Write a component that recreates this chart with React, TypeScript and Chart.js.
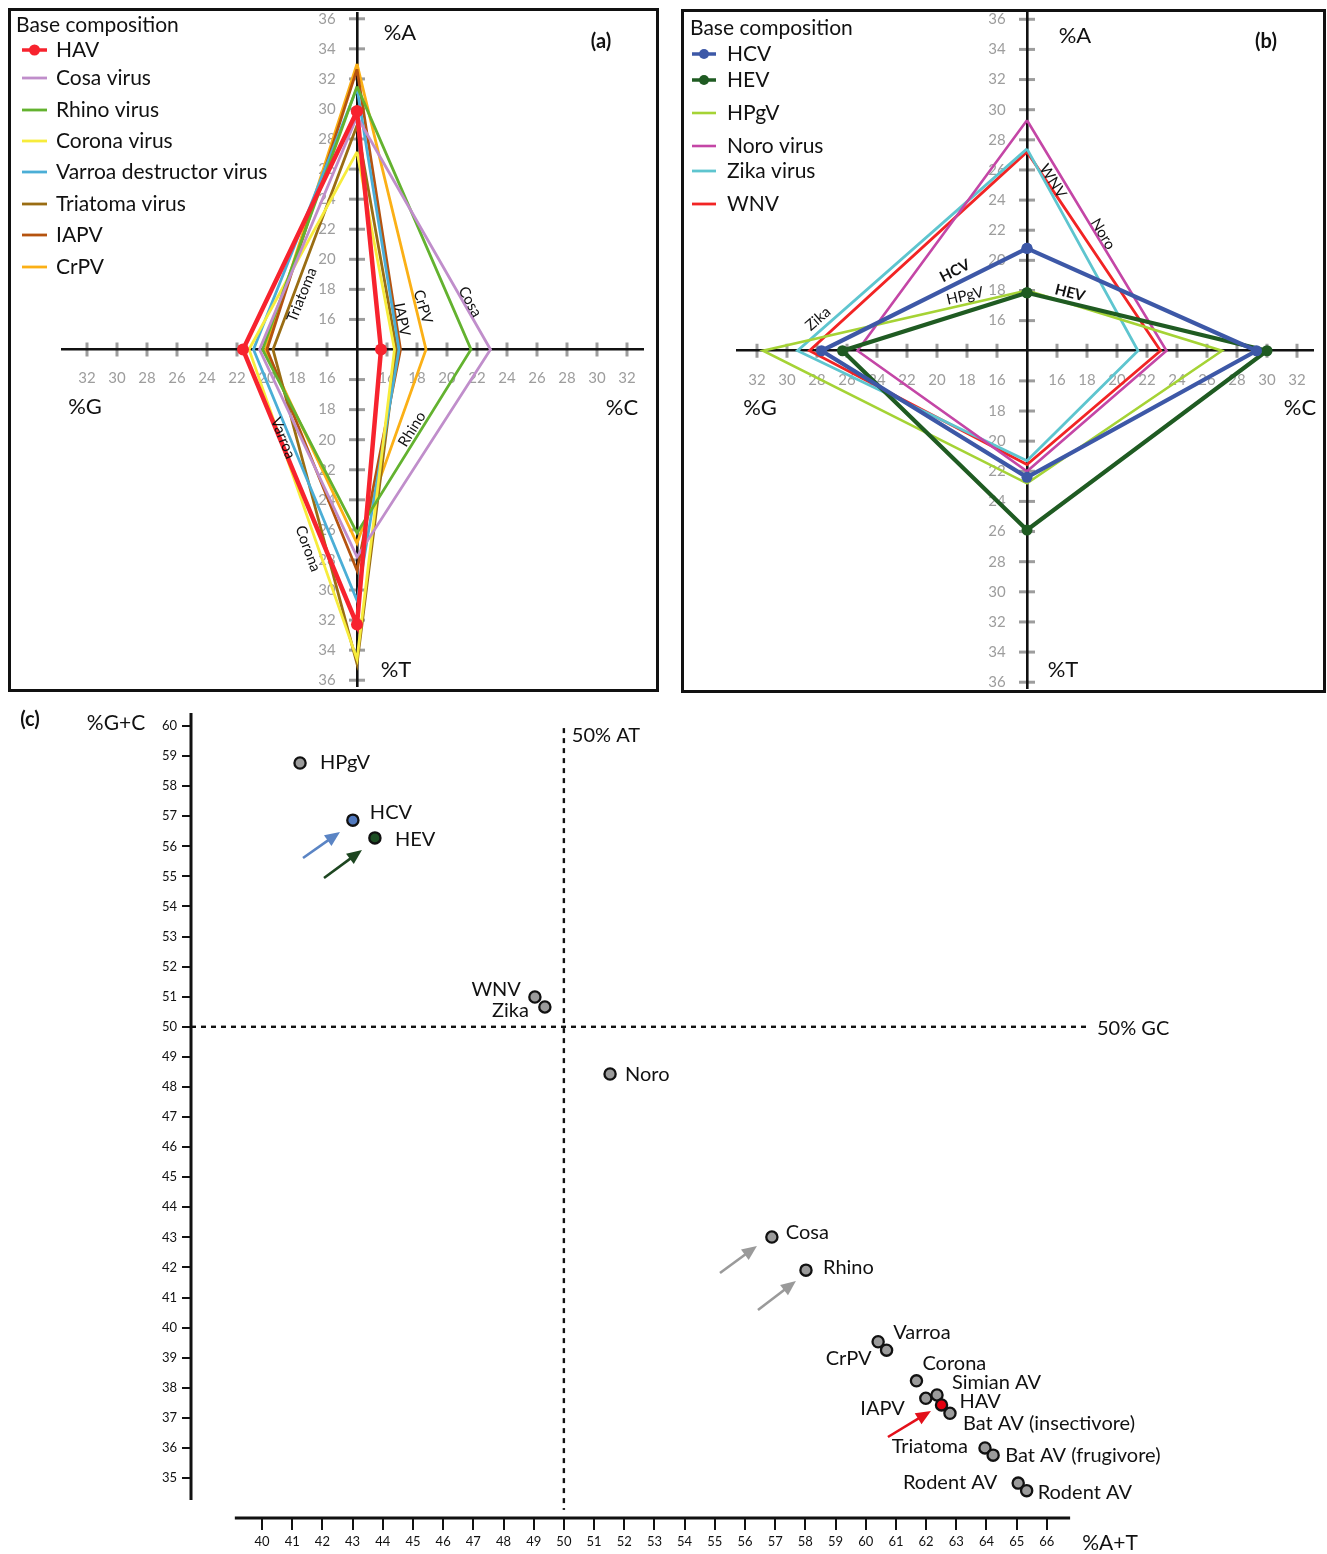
import React, { useEffect, useRef } from 'react';
import { Chart, registerables } from 'chart.js';

Chart.register(...registerables);

const FONT = 'Lato, "Open Sans", "Noto Sans", sans-serif';
const ORIGIN = 14; // base-composition value at the crossing of the diamond axes

// ---------------- Panel (a) ----------------
const virusesA = ['HAV', 'Cosa virus', 'Rhino virus', 'Corona virus', 'Varroa destructor virus', 'Triatoma virus', 'IAPV', 'CrPV'];
const pctA_a = [29.85, 29.5, 31.5, 27.15, 31.4, 28.9, 32.65, 33.0];
const pctC_a = [15.6, 22.9, 21.6, 16.5, 16.8, 16.65, 16.9, 18.6];
const pctT_a = [32.3, 27.8, 26.2, 34.6, 30.7, 34.9, 28.7, 26.9];
const pctG_a = [21.6, 20.5, 20.3, 21.2, 20.9, 19.6, 20.0, 20.1];

// ---------------- Panel (b) ----------------
const virusesB = ['HCV', 'HEV', 'HPgV', 'Noro virus', 'Zika virus', 'WNV'];
const pctA_b = [20.8, 17.85, 18.0, 29.3, 27.4, 27.2];
const pctC_b = [29.3, 30.0, 27.0, 23.3, 21.4, 22.9];
const pctT_b = [22.4, 25.9, 22.8, 22.0, 21.3, 21.55];
const pctG_b = [27.7, 26.3, 31.6, 25.3, 29.3, 28.5];

// tick labels of the diamond axes
const tickLabelsH = [16, 18, 20, 22, 24, 26, 28, 30, 32];
const tickLabelsV = [16, 18, 20, 22, 24, 26, 28, 30, 32, 34, 36];

// ---------------- Panel (c) ----------------
const scatterNames = ['HPgV', 'HCV', 'HEV', 'WNV', 'Zika', 'Noro', 'Cosa', 'Rhino', 'Varroa', 'CrPV', 'Corona', 'IAPV', 'Simian AV', 'Bat AV (insectivore)', 'Triatoma', 'Bat AV (frugivore)', 'Rodent AV', 'Rodent AV', 'HAV'];
const scatterAT = [41.26, 43.01, 43.74, 49.04, 49.37, 51.53, 56.89, 58.02, 60.41, 60.69, 61.68, 61.99, 62.36, 62.79, 63.95, 64.22, 65.05, 65.33, 62.51];
const scatterGC = [58.77, 56.87, 56.28, 50.99, 50.66, 48.43, 43.01, 41.91, 39.53, 39.25, 38.23, 37.65, 37.76, 37.15, 36.0, 35.76, 34.83, 34.58, 37.43];
const scatterTicksX = [40, 41, 42, 43, 44, 45, 46, 47, 48, 49, 50, 51, 52, 53, 54, 55, 56, 57, 58, 59, 60, 61, 62, 63, 64, 65, 66];
const scatterTicksY = [35, 36, 37, 38, 39, 40, 41, 42, 43, 44, 45, 46, 47, 48, 49, 50, 51, 52, 53, 54, 55, 56, 57, 58, 59, 60];

// ---------------- styles ----------------
const colorsA = ['#F7232E', '#C08ECB', '#63B22F', '#F7EC3C', '#4BAED6', '#9A6D13', '#B5530F', '#FBB016'];
const lineWidthsA = [4.5, 2.8, 2.8, 2.8, 2.8, 2.8, 2.8, 2.8];
const dotRadiiA = [6, 0, 0, 0, 0, 0, 0, 0];
const colorsB = ['#3D58A7', '#1F5B22', '#A5D335', '#C446A6', '#5EC5CF', '#F22424'];
const lineWidthsB = [4.2, 4.2, 2.6, 2.6, 2.8, 2.8];
const dotRadiiB = [5.5, 5.5, 0, 0, 0, 0];
const highlightFill: Record<string, string> = { HCV: '#5179BE', HEV: '#1D4E23', HAV: '#E3000F' };

// annotations (data coordinates of the diamond charts)
const lineLabelsA = [
  { text: 'Triatoma', x: -3.67, y: 3.64, rot: -68 },
  { text: 'Cosa', x: 7.53, y: 3.18, rot: 61 },
  { text: 'CrPV', x: 4.4, y: 2.85, rot: 74 },
  { text: 'IAPV', x: 3.0, y: 1.99, rot: 79 },
  { text: 'Rhino', x: 3.67, y: -5.3, rot: -58 },
  { text: 'Varroa', x: -4.93, y: -5.89, rot: 68 },
  { text: 'Corona', x: -3.27, y: -13.25, rot: 70 },
];
const lineLabelsB = [
  { text: 'WNV', x: 1.73, y: 11.26, rot: 58 },
  { text: 'Noro', x: 5.07, y: 7.75, rot: 59 },
  { text: 'HCV', x: -4.8, y: 5.3, rot: -27, bold: true },
  { text: 'HPgV', x: -4.13, y: 3.64, rot: -13 },
  { text: 'HEV', x: 2.87, y: 3.84, rot: 14, bold: true },
  { text: 'Zika', x: -13.93, y: 2.12, rot: -41 },
];
const scatterLabelOffsets = [
  { dx: 20, dy: 0, align: 'left' },
  { dx: 17, dy: -8, align: 'left' },
  { dx: 20, dy: 2, align: 'left' },
  { dx: -14, dy: -7, align: 'right' },
  { dx: -16, dy: 4, align: 'right' },
  { dx: 15, dy: 1, align: 'left' },
  { dx: 14, dy: -5, align: 'left' },
  { dx: 17, dy: -3, align: 'left' },
  { dx: 15, dy: -9, align: 'left' },
  { dx: -15, dy: 8, align: 'right' },
  { dx: 6, dy: -17, align: 'left' },
  { dx: -21, dy: 10, align: 'right' },
  { dx: 15, dy: -12, align: 'left' },
  { dx: 13, dy: 10, align: 'left' },
  { dx: -17, dy: -1, align: 'right' },
  { dx: 12, dy: 0, align: 'left' },
  { dx: -21, dy: -1, align: 'right' },
  { dx: 11, dy: 2, align: 'left' },
  { dx: 18, dy: -3, align: 'left' },
];
const scatterArrows = [
  { from: [41.358, 55.612], to: [42.584, 56.476], color: '#5A84C4' },
  { from: [42.054, 54.947], to: [43.312, 55.878], color: '#1D4620' },
  { from: [55.171, 41.815], to: [56.396, 42.713], color: '#9A9A9A' },
  { from: [56.429, 40.585], to: [57.688, 41.549], color: '#9A9A9A' },
  { from: [60.735, 36.363], to: [62.16, 37.23], color: '#E3101A' },
];

function diamondPoints(a: number, c: number, t: number, g: number) {
  return [
    { x: 0, y: a - ORIGIN },
    { x: c - ORIGIN, y: 0 },
    { x: 0, y: -(t - ORIGIN) },
    { x: -(g - ORIGIN), y: 0 },
    { x: 0, y: a - ORIGIN },
  ];
}

const diamondPlugin = {
  id: 'diamond',
  beforeDraw(chart: any) {
    const { ctx } = chart;
    const xs = chart.scales.x, ys = chart.scales.y;
    const cx = xs.getPixelForValue(0), cy = ys.getPixelForValue(0);
    ctx.save();
    ctx.strokeStyle = '#9d9d9d';
    ctx.fillStyle = '#9d9d9d';
    ctx.lineWidth = 3;
    ctx.font = `15px ${FONT}`;
    ctx.textAlign = 'center';
    ctx.textBaseline = 'middle';
    for (const t of xs.ticks) {
      const px = xs.getPixelForValue(t.value);
      ctx.beginPath(); ctx.moveTo(px, cy - 7); ctx.lineTo(px, cy + 7); ctx.stroke();
      ctx.fillText(String(Math.round(Math.abs(t.value) + ORIGIN)), px, cy + 29);
    }
    for (const t of ys.ticks) {
      const py = ys.getPixelForValue(t.value);
      ctx.beginPath(); ctx.moveTo(cx - 8, py); ctx.lineTo(cx + 8, py); ctx.stroke();
      // the lowest "16" of the vertical axis coincides with the horizontal axis label
      if (t.value === -(tickLabelsV[0] - ORIGIN)) continue;
      ctx.fillText(String(Math.round(Math.abs(t.value) + ORIGIN)), cx - 30, py);
    }
    ctx.restore();
  },
  afterDraw(chart: any, _a: any, o: any) {
    const { ctx } = chart;
    const xs = chart.scales.x, ys = chart.scales.y;
    ctx.save();
    ctx.fillStyle = '#111';
    ctx.textBaseline = 'middle';
    for (const l of o.lineLabels) {
      ctx.save();
      ctx.translate(xs.getPixelForValue(l.x), ys.getPixelForValue(l.y));
      ctx.rotate((l.rot * Math.PI) / 180);
      ctx.font = `${l.bold ? 'bold ' : ''}15px ${FONT}`;
      ctx.textAlign = 'center';
      ctx.fillText(l.text, 0, 0);
      ctx.restore();
    }
    ctx.font = `21px ${FONT}`;
    ctx.textAlign = 'left';
    ctx.fillText(o.title.text, o.title.x, o.title.y);
    chart.data.datasets.forEach((ds: any, i: number) => {
      const y = o.legendRows[i];
      ctx.strokeStyle = ds.borderColor;
      ctx.lineWidth = Math.min(ds.borderWidth, 3.5);
      ctx.beginPath(); ctx.moveTo(o.sampleX[0], y); ctx.lineTo(o.sampleX[1], y); ctx.stroke();
      if (ds.pointRadius > 0) {
        ctx.fillStyle = ds.borderColor;
        ctx.beginPath(); ctx.arc((o.sampleX[0] + o.sampleX[1]) / 2, y, ds.pointRadius - 0.5, 0, Math.PI * 2); ctx.fill();
      }
      ctx.fillStyle = '#111';
      ctx.fillText(ds.label, o.labelX, y);
    });
    ctx.font = `22px ${FONT}`;
    ctx.textAlign = 'center';
    for (const a of o.axisNames) ctx.fillText(a.text, a.x, a.y);
    ctx.font = `bold 20px ${FONT}`;
    ctx.fillText(o.tag.text, o.tag.x, o.tag.y);
    ctx.strokeStyle = '#111';
    ctx.lineWidth = 3;
    ctx.strokeRect(o.box[0], o.box[1], o.box[2], o.box[3]);
    ctx.restore();
  },
};

function diamondConfig(p: any): any {
  return {
    type: 'scatter',
    data: {
      datasets: p.names.map((n: string, i: number) => ({
        label: n,
        data: diamondPoints(p.A[i], p.C[i], p.T[i], p.G[i]),
        showLine: true,
        borderColor: p.colors[i],
        backgroundColor: p.colors[i],
        borderWidth: p.widths[i],
        pointRadius: p.dots[i],
        pointHoverRadius: p.dots[i],
        pointBorderWidth: 0,
        pointBackgroundColor: p.colors[i],
        borderJoinStyle: 'miter',
        fill: false,
        tension: 0,
        clip: false,
      })),
    },
    options: {
      responsive: false,
      animation: false,
      devicePixelRatio: 1,
      events: [],
      layout: { padding: p.padding },
      scales: {
        x: {
          type: 'linear', min: p.range[0], max: p.range[1], position: { y: 0 },
          grid: { display: false }, border: { display: true, color: '#111', width: 2.6 },
          ticks: { display: false },
          afterBuildTicks: (s: any) => {
            s.ticks = [...tickLabelsH.map((v) => ({ value: -(v - ORIGIN) })), ...tickLabelsH.map((v) => ({ value: v - ORIGIN }))];
          },
        },
        y: {
          type: 'linear', min: p.range[2], max: p.range[3], position: { x: 0 },
          grid: { display: false }, border: { display: true, color: '#111', width: 2.6 },
          ticks: { display: false },
          afterBuildTicks: (s: any) => {
            s.ticks = [...tickLabelsV.map((v) => ({ value: -(v - ORIGIN) })), ...tickLabelsV.map((v) => ({ value: v - ORIGIN }))];
          },
        },
      },
      plugins: { legend: { display: false }, tooltip: { enabled: false }, diamond: p.deco },
    },
    plugins: [diamondPlugin],
  };
}

const scatterPlugin = {
  id: 'scatterDeco',
  beforeDatasetsDraw(chart: any) {
    const { ctx, chartArea } = chart;
    const xs = chart.scales.x, ys = chart.scales.y;
    ctx.save();
    ctx.strokeStyle = '#111';
    ctx.lineWidth = 3;
    ctx.beginPath();
    ctx.moveTo(chartArea.left, chartArea.top);
    ctx.lineTo(chartArea.left, ys.getPixelForValue(34.27));
    ctx.stroke();
    ctx.beginPath();
    ctx.moveTo(xs.getPixelForValue(39.1), chartArea.bottom);
    ctx.lineTo(xs.getPixelForValue(66.77), chartArea.bottom);
    ctx.stroke();
    ctx.setLineDash([5, 5]);
    ctx.lineWidth = 2.4;
    ctx.beginPath();
    ctx.moveTo(xs.getPixelForValue(50), ys.getPixelForValue(59.93));
    ctx.lineTo(xs.getPixelForValue(50), ys.getPixelForValue(33.94));
    ctx.stroke();
    ctx.beginPath();
    ctx.moveTo(chartArea.left, ys.getPixelForValue(50));
    ctx.lineTo(xs.getPixelForValue(67.36), ys.getPixelForValue(50));
    ctx.stroke();
    ctx.setLineDash([]);
    ctx.fillStyle = '#111';
    ctx.font = `20px ${FONT}`;
    ctx.textBaseline = 'middle';
    ctx.textAlign = 'left';
    ctx.fillText('50% AT', xs.getPixelForValue(50) + 8, ys.getPixelForValue(59.67));
    ctx.fillText('50% GC', xs.getPixelForValue(67.36) + 9, ys.getPixelForValue(49.93));
    ctx.restore();
  },
  afterDatasetsDraw(chart: any, _a: any, o: any) {
    const { ctx } = chart;
    const xs = chart.scales.x, ys = chart.scales.y;
    ctx.save();
    for (const a of scatterArrows) {
      const x1 = xs.getPixelForValue(a.from[0]), y1 = ys.getPixelForValue(a.from[1]);
      const x2 = xs.getPixelForValue(a.to[0]), y2 = ys.getPixelForValue(a.to[1]);
      const ang = Math.atan2(y2 - y1, x2 - x1);
      const head = 15, half = 6.5;
      const c = Math.cos(ang), s = Math.sin(ang);
      ctx.strokeStyle = a.color;
      ctx.fillStyle = a.color;
      ctx.lineWidth = 2.6;
      ctx.beginPath();
      ctx.moveTo(x1, y1);
      ctx.lineTo(x2 - head * 0.8 * c, y2 - head * 0.8 * s);
      ctx.stroke();
      ctx.beginPath();
      ctx.moveTo(x2, y2);
      ctx.lineTo(x2 - head * c + half * s, y2 - head * s - half * c);
      ctx.lineTo(x2 - head * c - half * s, y2 - head * s + half * c);
      ctx.closePath();
      ctx.fill();
    }
    ctx.fillStyle = '#111';
    ctx.font = `20px ${FONT}`;
    ctx.textBaseline = 'middle';
    scatterNames.forEach((n, i) => {
      const off = scatterLabelOffsets[i];
      ctx.textAlign = off.align;
      ctx.fillText(n, xs.getPixelForValue(scatterAT[i]) + off.dx, ys.getPixelForValue(scatterGC[i]) + off.dy);
    });
    ctx.textAlign = 'center';
    ctx.font = `21px ${FONT}`;
    ctx.fillText('%G+C', o.yTitle[0], o.yTitle[1]);
    ctx.fillText('%A+T', o.xTitle[0], o.xTitle[1]);
    ctx.font = `bold 20px ${FONT}`;
    ctx.fillText('(c)', o.tag[0], o.tag[1]);
    ctx.restore();
  },
};

function scatterConfig(): any {
  return {
    type: 'scatter',
    data: {
      datasets: [
        {
          label: 'Viruses',
          data: scatterAT.map((x, i) => ({ x, y: scatterGC[i] })),
          pointRadius: 5.6,
          pointHoverRadius: 5.6,
          pointBorderWidth: 2.3,
          pointBorderColor: '#111',
          pointBackgroundColor: scatterNames.map((n) => highlightFill[n] || '#9B9B9B'),
          clip: false,
        },
      ],
    },
    options: {
      responsive: false,
      animation: false,
      devicePixelRatio: 1,
      events: [],
      layout: { padding: { left: 151, right: 147, top: 19, bottom: 0 } },
      scales: {
        x: {
          type: 'linear', position: 'bottom', min: 37.648, max: 70.41,
          afterFit: (s: any) => { s.height = 36; },
          afterBuildTicks: (s: any) => { s.ticks = scatterTicksX.map((v) => ({ value: v })); },
          grid: { display: true, drawOnChartArea: false, drawTicks: true, tickLength: 12, color: '#111', lineWidth: 2 },
          border: { display: false },
          ticks: { autoSkip: false, maxRotation: 0, padding: 4, color: '#111', font: { family: FONT, size: 13 } },
        },
        y: {
          type: 'linear', position: 'left', min: 33.67, max: 60.432,
          afterFit: (s: any) => { s.width = 40; },
          afterBuildTicks: (s: any) => { s.ticks = scatterTicksY.map((v) => ({ value: v })); },
          grid: { display: true, drawOnChartArea: false, drawTicks: true, tickLength: 9, color: '#111', lineWidth: 2 },
          border: { display: false },
          ticks: { autoSkip: false, padding: 5, color: '#111', font: { family: FONT, size: 13 } },
        },
      },
      plugins: {
        legend: { display: false },
        tooltip: { enabled: false },
        scatterDeco: { yTitle: [116, 29], xTitle: [1110, 849], tag: [30, 26] },
      },
    },
    plugins: [scatterPlugin],
  };
}

export default function App() {
  const refA = useRef<HTMLCanvasElement>(null);
  const refB = useRef<HTMLCanvasElement>(null);
  const refC = useRef<HTMLCanvasElement>(null);

  useEffect(() => {
    const chartA = new Chart(refA.current as HTMLCanvasElement, diamondConfig({
      names: virusesA, A: pctA_a, C: pctC_a, T: pctT_a, G: pctG_a,
      colors: colorsA, widths: lineWidthsA, dots: dotRadiiA,
      range: [-19.667, 19.067, -22.384, 22.384],
      padding: { left: 55, right: 16, top: 3, bottom: 7 },
      deco: {
        box: [2.5, 2.5, 648, 681],
        title: { text: 'Base composition', x: 9, y: 18 },
        legendRows: [43, 71, 103, 134, 165, 197, 228, 260],
        sampleX: [15, 40],
        labelX: 49,
        axisNames: [
          { text: '%A', x: 393, y: 26 },
          { text: '%C', x: 615, y: 401 },
          { text: '%T', x: 389, y: 663 },
          { text: '%G', x: 78, y: 400 },
        ],
        tag: { text: '(a)', x: 594, y: 35 },
        lineLabels: lineLabelsA,
      },
    }));
    const chartB = new Chart(refB.current as HTMLCanvasElement, diamondConfig({
      names: virusesB, A: pctA_b, C: pctC_b, T: pctT_b, G: pctG_b,
      colors: colorsB, widths: lineWidthsB, dots: dotRadiiB,
      range: [-19.333, 19.067, -22.384, 22.384],
      padding: { left: 57, right: 13, top: 4, bottom: 6 },
      deco: {
        box: [2.5, 2.5, 642, 681],
        title: { text: 'Base composition', x: 10, y: 20 },
        legendRows: [46, 72, 105, 138, 163, 196],
        sampleX: [12, 36],
        labelX: 47,
        axisNames: [
          { text: '%A', x: 395, y: 28 },
          { text: '%C', x: 620, y: 400 },
          { text: '%T', x: 383, y: 662 },
          { text: '%G', x: 80, y: 400 },
        ],
        tag: { text: '(b)', x: 586, y: 34 },
        lineLabels: lineLabelsB,
      },
    }));
    const chartC = new Chart(refC.current as HTMLCanvasElement, scatterConfig());
    return () => {
      chartA.destroy();
      chartB.destroy();
      chartC.destroy();
    };
  }, []);

  return (
    <div style={{ position: 'absolute', left: 0, top: 0, width: 1327, height: 1554, background: '#fff' }}>
      <canvas ref={refA} width={652} height={686} style={{ position: 'absolute', left: 7, top: 7, width: 652, height: 686 }} />
      <canvas ref={refB} width={646} height={686} style={{ position: 'absolute', left: 680, top: 8, width: 646, height: 686 }} />
      <canvas ref={refC} width={1327} height={860} style={{ position: 'absolute', left: 0, top: 694, width: 1327, height: 860 }} />
    </div>
  );
}
